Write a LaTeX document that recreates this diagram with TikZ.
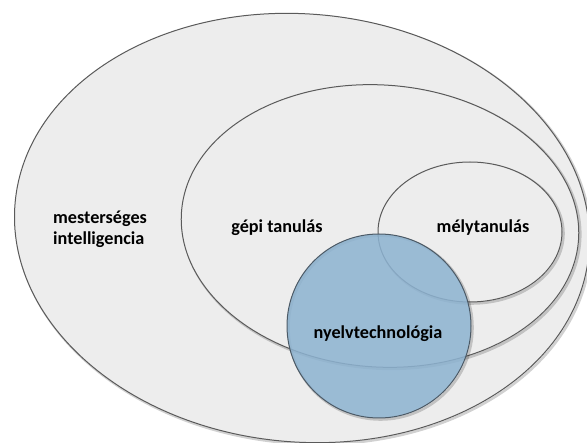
\documentclass[tikz,border=0pt]{standalone}
\usepackage{fontspec}
\setmainfont{Carlito}
\usetikzlibrary{shapes.geometric}
\definecolor{bgfill}{HTML}{EDEDED}
\definecolor{edge}{HTML}{5A5A5A}
\definecolor{nlpblue}{RGB}{141,179,209}
\definecolor{nlpedge}{HTML}{4C5A66}
\tikzset{
  region/.style={ellipse, draw=edge, line width=1pt, inner sep=0pt, fill=bgfill},
  shade/.style={ellipse, draw=black, draw opacity=0.18, line width=2.6pt, inner sep=0pt},
  lbl/.style={font=\fontsize{18.2}{21}\selectfont\bfseries, text=black, align=left, inner sep=0pt},
}
\begin{document}
\begin{tikzpicture}[x=1pt,y=-1pt]
\useasboundingbox (0,0) rectangle (587,443);
\fill[white] (0,0) rectangle (587,443);
% outer ellipse
\node[shade, minimum width=576, minimum height=428, rotate=-5] (aishade) at (303.5,229.5) {};
\node[region, minimum width=576, minimum height=428, rotate=-5] (ai) at (302,228) {};
% middle ellipse
\node[shade, minimum width=398, minimum height=282, rotate=-4] (mlshade) at (381.5,227.5) {};
\node[region, minimum width=398, minimum height=282, rotate=-4] (ml) at (380,226) {};
% small ellipse
\node[shade, minimum width=184, minimum height=140, fill=none] (dlshade) at (471.5,233.5) {};
\node[region, minimum width=184, minimum height=140] (dl) at (470,232) {};
% blue circle
\node[circle, draw=black, draw opacity=0.18, line width=2.6pt, minimum size=184, inner sep=0pt] (nlpshade) at (380.5,327.5) {};
\node[circle, draw=nlpedge, line width=1pt, fill=nlpblue, fill opacity=0.86, minimum size=184, inner sep=0pt] (nlp) at (379,326) {};
% labels
\node[lbl, anchor=west] (t1) at (53,219) {mesterséges};
\node[lbl, anchor=west] (t2) at (53,240) {intelligencia};
\node[lbl] (t3) at (277,228) {gépi tanulás};
\node[lbl] (t4) at (483,228) {mélytanulás};
\node[lbl] (t5) at (378,334) {nyelvtechnológia};
\end{tikzpicture}
\end{document}
